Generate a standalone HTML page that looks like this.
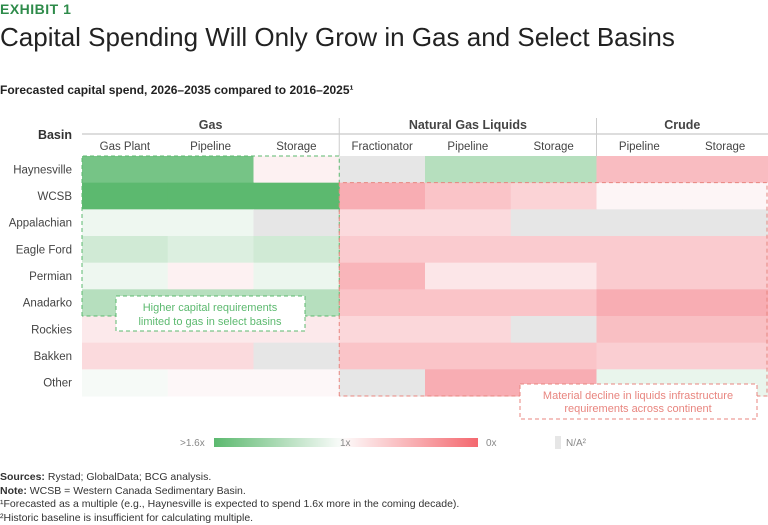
<!DOCTYPE html>
<html><head><meta charset="utf-8"><style>
body{margin:0;width:768px;height:525px;background:#fff;font-family:"Liberation Sans",sans-serif;color:#333;position:relative;overflow:hidden}
.a{position:absolute;white-space:nowrap}
</style></head><body>
<div class="a" style="left:0;top:1px;font-size:14px;font-weight:bold;color:#2e8b4a;letter-spacing:.5px">EXHIBIT 1</div>
<div class="a" style="left:0;top:22px;font-size:26px;color:#222">Capital Spending Will Only Grow in Gas and Select Basins</div>
<div class="a" style="left:0;top:83px;font-size:12px;font-weight:bold;color:#222">Forecasted capital spend, 2026–2035 compared to 2016–2025¹</div>
<svg id="chart" width="768" height="470" style="position:absolute;left:0;top:0"></svg>
<div class="a" style="left:0;top:471px;font-size:10.5px;line-height:13.5px;color:#333">
<div><b>Sources:</b> Rystad; GlobalData; BCG analysis.</div>
<div><b>Note:</b> WCSB = Western Canada Sedimentary Basin.</div>
<div>¹Forecasted as a multiple (e.g., Haynesville is expected to spend 1.6x more in the coming decade).</div>
<div>²Historic baseline is insufficient for calculating multiple.</div>
</div>
<script>
const basins=["Haynesville","WCSB","Appalachian","Eagle Ford","Permian","Anadarko","Rockies","Bakken","Other"];
const groups=["Gas","Natural Gas Liquids","Crude"];
const columns=["Gas Plant","Pipeline","Storage","Fractionator","Pipeline","Storage","Pipeline","Storage"];
const NA=null;
const rowHaynesville=[1.5,1.5,0.95,NA,1.25,1.25,0.6,0.6];
const rowWCSB=[1.6,1.6,1.6,0.5,0.65,0.75,0.98,0.98];
const rowAppalachian=[1.03,1.03,NA,0.8,0.8,NA,NA,NA];
const rowEagleFord=[1.15,1.1,1.15,0.7,0.7,0.7,0.7,0.7];
const rowPermian=[1.03,0.95,1.04,0.55,0.88,0.88,0.7,0.7];
const rowAnadarko=[1.25,1.25,1.25,0.65,0.65,0.65,0.5,0.5];
const rowRockies=[0.9,0.9,0.9,0.78,0.78,NA,0.62,0.62];
const rowBakken=[0.8,0.8,NA,0.65,0.65,0.65,0.72,0.72];
const rowOther=[1.0,0.99,0.99,NA,0.5,0.5,1.05,1.05];
const values=[rowHaynesville,rowWCSB,rowAppalachian,rowEagleFord,rowPermian,rowAnadarko,rowRockies,rowBakken,rowOther];

const svg=document.getElementById('chart');const NS="http://www.w3.org/2000/svg";
const X0=82,X1=768,Y0=156,Y1=396;
const cw=(X1-X0)/columns.length, rh=(Y1-Y0)/basins.length;
const xs=i=>X0+i*cw, ys=j=>Y0+j*rh;
function mk(t,a,p){const e=document.createElementNS(NS,t);for(const k in a)e.setAttribute(k,a[k]);(p||svg).appendChild(e);return e;}
function mix(a,b,t){return 'rgb('+a.map((v,i)=>Math.round(v+(b[i]-v)*t)).join(',')+')';}
function color(v){
 if(v===null)return '#e6e6e6';
 const W=[246,250,247],WR=[253,248,249],G=[92,185,111],R=[243,98,108];
 if(v>=1)return mix(W,G,Math.min(1,(v-1)/0.6));
 return mix(WR,R,Math.min(1,(1-v)));
}
values.forEach((row,j)=>row.forEach((v,i)=>{
 const r=mk('rect',{x:xs(i),y:ys(j),width:cw+0.5,height:rh+0.5,fill:color(v)});
 
 
}));
basins.forEach((b,j)=>{const t=mk('text',{x:72,y:ys(j)+rh/2+4,'text-anchor':'end','font-size':11.5,fill:'#444'});t.textContent=b;
 });
columns.forEach((c,i)=>{const t=mk('text',{x:xs(i)+cw/2,y:150,'text-anchor':'middle','font-size':11.5,fill:'#444'});t.textContent=c;
 });
const gspan=[[0,3],[3,6],[6,8]];
groups.forEach((g,k)=>{const t=mk('text',{x:(xs(gspan[k][0])+xs(gspan[k][1]))/2,y:129,'text-anchor':'middle','font-size':12.5,'font-weight':'bold',fill:'#444'});t.textContent=g;
 });
const bt=mk('text',{x:72,y:139,'text-anchor':'end','font-size':12.5,'font-weight':'bold',fill:'#333'});bt.textContent='Basin';

mk('line',{x1:X0,x2:X1,y1:134,y2:134,stroke:'#bbb'});
[3,6].forEach(i=>mk('line',{x1:xs(i),x2:xs(i),y1:118,y2:156,stroke:'#ccc'}));
const gy=ys(6);
mk('path',{d:`M${X0},${gy}V${Y0}H${xs(3)}V${gy}H${X0}`,fill:'none',stroke:'#5cb96f','stroke-dasharray':'4,3'});
mk('path',{d:`M${xs(3)},${Y1}V${ys(1)}H${X1-1}V${Y1}H${xs(3)}`,fill:'none',stroke:'#e8857f','stroke-dasharray':'4,3'});
mk('rect',{x:116,y:296,width:189,height:35,fill:'#fff',stroke:'#5cb96f','stroke-dasharray':'4,3'});
[['Higher capital requirements',311],['limited to gas in select basins',325]].forEach(([s,y])=>{const t=mk('text',{x:210,y:y,'text-anchor':'middle','font-size':11,fill:'#5cb96f'});t.textContent=s;});
mk('rect',{x:520,y:384,width:237,height:35,fill:'#fff',stroke:'#e8857f','stroke-dasharray':'4,3'});
[['Material decline in liquids infrastructure',399],['requirements across continent',412]].forEach(([s,y])=>{const t=mk('text',{x:638,y:y,'text-anchor':'middle','font-size':11,fill:'#e8857f'});t.textContent=s;});
const defs=mk('defs',{});const lg=mk('linearGradient',{id:'lg'},defs);
[['0','#5cb96f'],['0.47','#f6faf7'],['0.5','#fdf8f8'],['1','#f4686f']].forEach(([o,c])=>mk('stop',{offset:o,'stop-color':c},lg));
const lb=mk('rect',{x:214,y:438,width:264,height:9,fill:'url(#lg)'});

[['>1.6x',180],['1x',340],['0x',486],['N/A²',566]].forEach(([s,x])=>{const t=mk('text',{x:x,y:446,'font-size':10,fill:'#888'});t.textContent=s;});
const na=mk('rect',{x:555,y:436,width:6,height:13,fill:'#e6e6e6'});

</script>
</body></html>
